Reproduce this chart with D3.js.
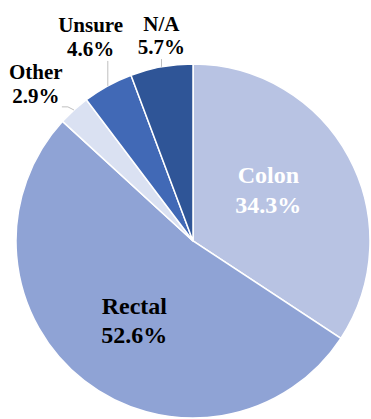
<!DOCTYPE html>
<html>
<head>
<meta charset="utf-8">
<script src="https://cdn.jsdelivr.net/npm/d3@7"></script>
</head>
<body style="margin:0">
<script>
// Cancer site breakdown (percent of respondents)
const categories = ["Colon", "Rectal", "Other", "Unsure", "N/A"];
const values = [34.3, 52.6, 2.9, 4.6, 5.7];
const colors = ["#B8C3E3", "#8FA3D5", "#DAE1F2", "#4169B6", "#2F5597"];

const width = 371, height = 419;
const cx = 193, cy = 241, radius = 177;
const fontFamily = "Liberation Serif";

// Label placement per slice: polar distance from centre, angle shift (deg),
// text colour, font size, and whether it sits outside with a leader line.
const labelLayout = {
  "Colon":  { dist: 91,  turn: -5.8, fill: "#ffffff", size: 24, outside: false },
  "Rectal": { dist: 99,  turn: -1.6, fill: "#000000", size: 24, outside: false },
  "Other":  { dist: 222, turn: -2.8, fill: "#000000", size: 21, outside: true },
  "Unsure": { dist: 228, turn: 2.1,  fill: "#000000", size: 21, outside: true },
  "N/A":    { dist: 208, turn: 1.5,  fill: "#000000", size: 21, outside: true }
};

const data = categories.map((c, i) => ({ category: c, value: values[i], color: colors[i] }));

const svg = d3.select("body").append("svg")
  .attr("width", width)
  .attr("height", height)
  .style("display", "block");

const pie = d3.pie().sort(null).value(d => d.value);
const arc = d3.arc().innerRadius(0).outerRadius(radius);
const arcs = pie(data);

svg.selectAll("path.slice")
  .data(arcs)
  .join("path")
  .attr("class", "slice")
  .attr("transform", `translate(${cx},${cy})`)
  .attr("d", arc)
  .attr("fill", d => d.data.color)
  .attr("stroke", "#ffffff")
  .attr("stroke-width", 1.5);

const polar = (angle, r) => [cx + Math.sin(angle) * r, cy - Math.cos(angle) * r];

// leader lines from the slice edge up to the outside labels
const leaders = [];
const lines = [];
arcs.forEach(d => {
  const lay = labelLayout[d.data.category];
  const mid = (d.startAngle + d.endAngle) / 2;
  const [lx, ly] = polar(mid + lay.turn * Math.PI / 180, lay.dist);
  const lineH = lay.outside ? 23.5 : 29.5;
  const capH = lay.size * 0.66;
  const b1 = ly - (lineH - capH) / 2;

  if (lay.outside) {
    const [ex, ey] = polar(mid, radius);
    const ty = b1 + lineH + 5;
    leaders.push(d.data.category === "Other"
      ? [[ex, ey], [lx + 32, ty - 1], [lx + 26, ty - 1]]
      : [[ex, ey], [ex, ty]]);
  }
  [d.data.category, d3.format(".1f")(d.data.value) + "%"].forEach((s, k) => {
    lines.push({ text: s, x: lx, y: b1 + k * lineH, fill: lay.fill, size: lay.size });
  });
});

svg.selectAll("path.leader")
  .data(leaders)
  .join("path")
  .attr("class", "leader")
  .attr("d", d3.line())
  .attr("fill", "none")
  .attr("stroke", "#BFBFBF")
  .attr("stroke-width", 1);

svg.selectAll("text")
  .data(lines)
  .join("text")
  .attr("x", d => d.x)
  .attr("y", d => d.y)
  .attr("text-anchor", "middle")
  .attr("fill", d => d.fill)
  .attr("font-family", fontFamily)
  .attr("font-weight", "bold")
  .attr("font-size", d => d.size)
  .style("font-family", fontFamily, "important")
  .text(d => d.text);
</script>
</body>
</html>
